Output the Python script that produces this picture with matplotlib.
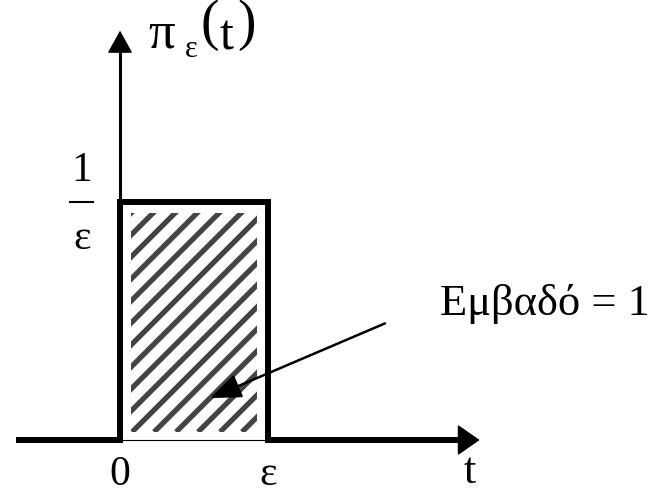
import numpy as np
import matplotlib
matplotlib.use("Agg")
import matplotlib.pyplot as plt
from matplotlib.patches import Rectangle

# Datos del pulso
epsilon = 1.0
altura = 1.0 / epsilon
tInicio = -0.70
tFlecha = 2.43
vFlecha = 1.72

etiquetaArea = "Εμβαδό = 1"
etiquetasEje = ["0", "ε"]
posicionesEje = [0.0, epsilon]

# Entrada: eje y limites de la ventana.
# Procedimiento: Dibuja las rayas diagonales dentro del rectangulo del pulso.
# Salida: Nada, las rayas quedan en el eje.

def rayado(ax, x0, x1, y0, y1, pxX, pxY, paso):

	marco = Rectangle((x0, y0), x1 - x0, y1 - y0, transform=ax.transData)
	# lineas a 45 grados en pixeles
	anchoPx = (x1 - x0) * pxX
	altoPx = (y1 - y0) * pxY
	for c in np.arange(-altoPx, anchoPx + altoPx, paso):
		xs = np.array([c, c + altoPx + anchoPx]) / pxX + x0
		ys = np.array([0, altoPx + anchoPx]) / pxY + y0
		linea, = ax.plot(xs, ys, color='#444444', lw=3.8, solid_capstyle='butt')
		linea.set_clip_path(marco)

# Entrada: posicion, texto y tamanio.
# Procedimiento: Escribe el texto con la fuente serif.
# Salida: El objeto de texto.

def texto(ax, x, y, txt, tam, **kw):

	return ax.text(x, y, txt, family='Liberation Serif', fontsize=tam, **kw)

fig = plt.figure(figsize=(6.49, 4.92), dpi=100)
ax = fig.add_axes([0, 0, 1, 1])
ax.set_xlim(-0.811, 3.574)
ax.set_ylim(-0.2185, 1.849)
ax.axis('off')

pxX = 649 / (3.574 + 0.811)
pxY = 492 / (1.849 + 0.2185)

# rayado interior
margen = 11
rayado(ax, 0 + margen / pxX, epsilon - margen / pxX, 0 + 8 / pxY, altura - 11 / pxY, pxX, pxY, 22)

# base delgada del rectangulo
ax.plot([0, epsilon], [0, 0], color='black', lw=0.8)

# eje vertical con flecha
ax.plot([0, 0], [altura, vFlecha - 14 / pxY], color='black', lw=2.2)
ax.annotate('', xy=(0, vFlecha), xytext=(0, vFlecha - 15 / pxY),
			arrowprops=dict(arrowstyle='-|>,head_length=14.4,head_width=8', mutation_scale=1,
							color='black', lw=1, shrinkA=0, shrinkB=0))

# pulso grueso
tBase = tFlecha - 20 / pxX
ax.plot([tInicio, 0, 0, epsilon, epsilon, tBase], [0, 0, altura, altura, 0, 0],
		color='black', lw=4.3, solid_joinstyle='miter', solid_capstyle='butt')
ax.annotate('', xy=(tFlecha, 0), xytext=(tBase - 2 / pxX, 0),
			arrowprops=dict(arrowstyle='-|>,head_length=14.4,head_width=10', mutation_scale=1,
							color='black', lw=1, shrinkA=0, shrinkB=0))

# flecha al area
ax.annotate('', xy=(0.608, 0.176), xytext=(1.79, 0.49),
			arrowprops=dict(arrowstyle='-|>,head_length=19,head_width=7.5', mutation_scale=1,
							color='black', lw=1.8, shrinkA=0, shrinkB=0))
texto(ax, 2.16, 0.525, etiquetaArea, 32, ha='left', va='baseline')

# etiquetas del eje t
for pos, txt in zip(posicionesEje, etiquetasEje):
	texto(ax, pos, -0.145, txt, 30, ha='center', va='center')
texto(ax, 2.36, -0.135, "t", 32, ha='center', va='center')

# 1/epsilon
texto(ax, -0.26, 1.13, "1", 30, ha='center', va='center')
ax.plot([-0.338, -0.182], [altura, altura], color='black', lw=1.5)
texto(ax, -0.257, 0.845, "ε", 30, ha='center', va='center')

# titulo del eje vertical
texto(ax, 0.19, 1.651, "π", 38, ha='left', va='baseline')
texto(ax, 0.44, 1.609, "ε", 22, ha='left', va='baseline')
texto(ax, 0.545, 1.744, "(", 40, ha='left', va='center')
texto(ax, 0.675, 1.639, "t", 36, ha='left', va='baseline')
texto(ax, 0.79, 1.744, ")", 40, ha='left', va='center')

fig.savefig('out.png', dpi=100)
